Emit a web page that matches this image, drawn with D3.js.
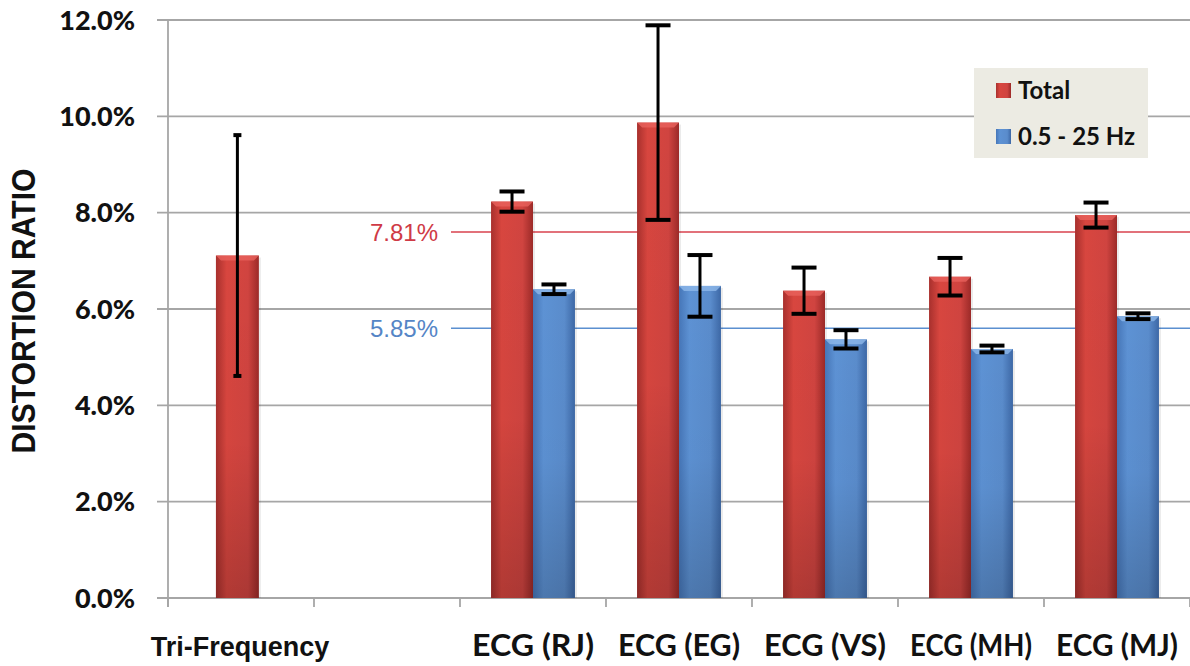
<!DOCTYPE html>
<html>
<head>
<meta charset="utf-8">
<script src="https://cdn.jsdelivr.net/npm/d3@7"></script>
<style>
  body { margin: 0; background: #fff; }
  svg { display: block; }
</style>
</head>
<body>
<svg id="chart" width="1190" height="666"></svg>
<script>
// categories along x (second slot is an empty gap in the original)
var categories = ["Tri-Frequency", " ", "ECG (RJ)", "ECG (EG)", "ECG (VS)", "ECG (MH)", "ECG (MJ)"];
var seriesNames = ["Total", "0.5 - 25 Hz"];
// values in percent, null = no bar
var totalValues = [7.11, null, 8.23, 9.87, 6.38, 6.67, 7.95];
var totalErrors = [2.5, null, 0.21, 2.02, 0.48, 0.39, 0.26];
var bandValues  = [null, null, 6.41, 6.48, 5.37, 5.17, 5.85];
var bandErrors  = [null, null, 0.1, 0.64, 0.19, 0.07, 0.06];
var yTicks = [0, 2, 4, 6, 8, 10, 12];
// reference lines: drawn where the picture has them, with the printed labels
var refValues = [7.6, 5.6];
var refLabels = ["7.81%", "5.85%"];

var svg = d3.select("#chart");
var plotLeft = 168, plotRight = 1190, plotTop = 20, plotBottom = 598;

var x0 = d3.scaleBand().domain(categories).range([plotLeft, plotRight]).padding(0);
var x1 = d3.scaleBand().domain(seriesNames).range([0, x0.bandwidth()]).paddingInner(0).paddingOuter(0.74);
var xSingle = d3.scaleBand().domain(["Total"]).range([0, x0.bandwidth()]).paddingOuter(1.2).align(0.465);
var y = d3.scaleLinear().domain([0, 12]).range([plotBottom, plotTop]);

var colors = {
  "Total": ["#a8302d", "#d8463f", "#d04440", "#9c2a28"],
  "0.5 - 25 Hz": ["#4676b8", "#5d92d4", "#5a8ccc", "#3d68a6"]
};

var defs = svg.append("defs");
seriesNames.forEach(function(s, i) {
  var c = colors[s];
  var g = defs.append("linearGradient").attr("id", "grad" + i)
    .attr("x1", "0").attr("x2", "1").attr("y1", "0").attr("y2", "0");
  g.append("stop").attr("offset", "0%").attr("stop-color", c[0]);
  g.append("stop").attr("offset", "25%").attr("stop-color", c[1]);
  g.append("stop").attr("offset", "75%").attr("stop-color", c[2]);
  g.append("stop").attr("offset", "100%").attr("stop-color", c[3]);
});
var shade = defs.append("linearGradient").attr("id", "shade")
  .attr("x1", "0").attr("x2", "0").attr("y1", "0").attr("y2", "1");
shade.append("stop").attr("offset", "0%").attr("stop-color", "#000").attr("stop-opacity", 0);
shade.append("stop").attr("offset", "55%").attr("stop-color", "#000").attr("stop-opacity", 0.02);
shade.append("stop").attr("offset", "100%").attr("stop-color", "#000").attr("stop-opacity", 0.18);

// gridlines
svg.append("g").selectAll("line").data(yTicks).enter().append("line")
  .attr("x1", plotLeft - 11).attr("x2", plotRight)
  .attr("y1", function(d) { return y(d); }).attr("y2", function(d) { return y(d); })
  .attr("stroke", "#a6a6a6").attr("stroke-width", 1.8);

// axis lines
svg.append("line").attr("x1", plotLeft).attr("x2", plotLeft).attr("y1", plotTop).attr("y2", plotBottom + 9)
  .attr("stroke", "#a6a6a6").attr("stroke-width", 1.8);
svg.append("g").selectAll("line").data(categories.concat(["end"])).enter().append("line")
  .attr("x1", function(d, i) { return plotLeft + i * x0.step(); })
  .attr("x2", function(d, i) { return plotLeft + i * x0.step(); })
  .attr("y1", plotBottom).attr("y2", plotBottom + 9)
  .attr("stroke", "#a6a6a6").attr("stroke-width", 1.8);

// y tick labels
svg.append("g").selectAll("text").data(yTicks).enter().append("text")
  .attr("x", 135).attr("y", function(d) { return y(d); })
  .attr("dy", "0.36em").attr("text-anchor", "end")
  .style("font-family", "Lato, sans-serif").style("font-weight", "900").style("font-size", "27px")
  .style("fill", "#111")
  .text(function(d) { return d.toFixed(1) + "%"; });

// y title
svg.append("text")
  .attr("transform", "translate(35," + 311 + ") rotate(-90)")
  .attr("text-anchor", "middle")
  .attr("textLength", 285).attr("lengthAdjust", "spacingAndGlyphs")
  .style("font-family", "'Liberation Sans', Arial, sans-serif").style("font-weight", "bold").style("font-size", "33px")
  .style("fill", "#111")
  .text("DISTORTION RATIO");

// x labels
svg.append("g").selectAll("text").data(categories).enter().append("text")
  .attr("x", function(d) { return x0(d) + x0.bandwidth() / 2 + (d === "Tri-Frequency" ? -1 : 0); })
  .attr("y", 656)
  .attr("text-anchor", "middle")
  .style("font-family", function(d) { return d === "Tri-Frequency" ? "'Liberation Sans', Arial, sans-serif" : "Lato, sans-serif"; })
  .style("font-weight", "bold")
  .style("font-size", function(d) { return d === "Tri-Frequency" ? "27px" : "30px"; })
  .attr("textLength", function(d) { return d === "Tri-Frequency" ? null : 122; })
  .attr("lengthAdjust", "spacingAndGlyphs")
  .style("fill", "#111")
  .text(function(d) { return d.trim(); });

// reference lines
var refColors = ["#d9424e", "#5b8fd0"];
var refText = ["#cf3a46", "#5585c6"];
svg.append("g").selectAll("line").data(refValues).enter().append("line")
  .attr("x1", 451).attr("x2", plotRight)
  .attr("y1", function(d) { return y(d); }).attr("y2", function(d) { return y(d); })
  .attr("stroke", function(d, i) { return refColors[i]; }).attr("stroke-width", 1.6);
svg.append("g").selectAll("text").data(refValues).enter().append("text")
  .attr("x", 438).attr("y", function(d) { return y(d); }).attr("dy", "0.36em")
  .attr("text-anchor", "end")
  .style("font-family", "'Liberation Sans', Arial, sans-serif").style("font-size", "24px")
  .style("fill", function(d, i) { return refText[i]; })
  .text(function(d, i) { return refLabels[i]; });

// bars
var bars = [];
categories.forEach(function(c, i) {
  var single = bandValues[i] === null;
  if (totalValues[i] !== null) bars.push({cat: c, s: 0, v: totalValues[i], e: totalErrors[i], single: single});
  if (bandValues[i] !== null) bars.push({cat: c, s: 1, v: bandValues[i], e: bandErrors[i], single: false});
});
function barX(d) {
  return x0(d.cat) + (d.single ? xSingle("Total") : x1(seriesNames[d.s]));
}
function barW(d) { return d.single ? xSingle.bandwidth() : x1.bandwidth(); }

var gb = svg.append("g");
// soft shadow
gb.selectAll("rect.shadow").data(bars).enter().append("rect")
  .attr("x", function(d) { return barX(d) + 2; }).attr("y", function(d) { return y(d.v) + 2; })
  .attr("width", function(d) { return barW(d); }).attr("height", function(d) { return plotBottom - y(d.v) - 2; })
  .attr("fill", "#000").attr("opacity", 0.08);
gb.selectAll("rect.bar").data(bars).enter().append("rect")
  .attr("x", barX).attr("y", function(d) { return y(d.v); })
  .attr("width", barW).attr("height", function(d) { return plotBottom - y(d.v); })
  .attr("fill", function(d) { return "url(#grad" + d.s + ")"; });
gb.selectAll("rect.shade").data(bars).enter().append("rect")
  .attr("x", barX).attr("y", function(d) { return y(d.v); })
  .attr("width", barW).attr("height", function(d) { return plotBottom - y(d.v); })
  .attr("fill", "url(#shade)");
// bevel on top
gb.selectAll("path.bevel").data(bars).enter().append("path")
  .attr("d", function(d) {
    var x = barX(d), w = barW(d), t = y(d.v), b = 5;
    return "M" + x + "," + t + "H" + (x + w) + "L" + (x + w - b) + "," + (t + b) + "H" + (x + b) + "Z";
  })
  .attr("fill", function(d) { return d.s === 0 ? "#e8625c" : "#8db8ea"; })
  .attr("opacity", 0.8);

// error bars
var ge = svg.append("g").attr("stroke", "#000");
bars.forEach(function(d) {
  var cx = barX(d) + barW(d) / 2;
  var cap = d.single ? 4 : 12.5;
  ge.append("line").attr("x1", cx).attr("x2", cx)
    .attr("y1", y(d.v + d.e)).attr("y2", y(d.v - d.e)).attr("stroke-width", 3);
  [d.v + d.e, d.v - d.e].forEach(function(v) {
    ge.append("line").attr("x1", cx - cap).attr("x2", cx + cap)
      .attr("y1", y(v)).attr("y2", y(v)).attr("stroke-width", 4);
  });
});

// legend
var lg = svg.append("g").attr("transform", "translate(974,68)");
lg.append("rect").attr("width", 174).attr("height", 90).attr("fill", "#ecebe3");
seriesNames.forEach(function(s, i) {
  var row = lg.append("g").attr("transform", "translate(0," + (i * 46) + ")");
  row.append("rect").attr("x", 22).attr("y", 15).attr("width", 15).attr("height", 15)
    .attr("fill", "url(#grad" + i + ")");
  row.append("text").attr("x", 44).attr("y", 31)
    .style("font-family", "Lato, sans-serif").style("font-weight", "bold").style("font-size", "24px")
    .style("fill", "#111")
    .text(s);
});
</script>
</body>
</html>
